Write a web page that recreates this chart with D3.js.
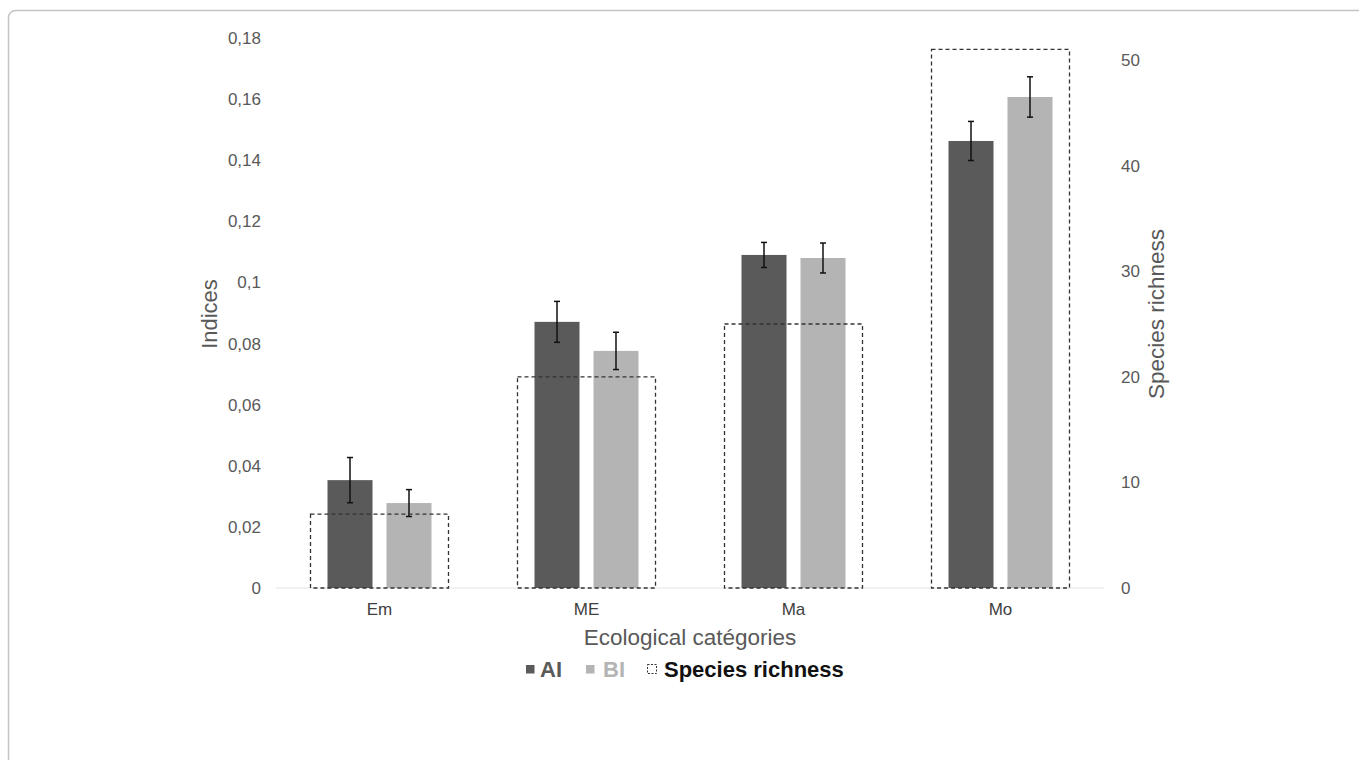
<!DOCTYPE html>
<html>
<head>
<meta charset="utf-8">
<script src="https://cdn.jsdelivr.net/npm/d3@7"></script>
<style>
  body { margin: 0; background: #fff; }
  text { font-family: "Liberation Sans", Arial, sans-serif; }
</style>
</head>
<body>
<div id="chart"></div>
<script>
'use strict';

var categories = ['Em', 'ME', 'Ma', 'Mo'];
var seriesNames = ['AI', 'BI'];
var aiValues = [0.0353, 0.0871, 0.1090, 0.1463];
var aiErrors = [0.0074, 0.0067, 0.0041, 0.0064];
var biValues = [0.0278, 0.0776, 0.1080, 0.1607];
var biErrors = [0.0044, 0.0061, 0.0049, 0.0066];
var richness = [7, 20, 25, 51];

var leftTicks = [0, 0.02, 0.04, 0.06, 0.08, 0.1, 0.12, 0.14, 0.16, 0.18];
var rightTicks = [0, 10, 20, 30, 40, 50];

var W = 1359, H = 760;
var x0 = 276, x1 = 1104, yBase = 588, yTop = 38;

var svg = d3.select('#chart')
    .append('svg')
    .attr('width', W)
    .attr('height', H);

// frame with rounded corner, runs off right and bottom
svg.append('rect')
    .attr('x', 8.5)
    .attr('y', 10.5)
    .attr('width', W + 20)
    .attr('height', H + 20)
    .attr('rx', 7)
    .attr('fill', 'none')
    .attr('stroke', '#c4c4c4')
    .attr('stroke-width', 1.5);

var x = d3.scaleBand()
    .domain(categories)
    .range([x0, x1])
    .padding(0);

var step = x.step();
var groupW = 104;
var xSub = d3.scaleBand()
    .domain(seriesNames)
    .range([(step - groupW) / 2, (step + groupW) / 2])
    .paddingInner(0.237);

var y = d3.scaleLinear().domain([0, 0.18]).range([yBase, yTop]);
var yR = d3.scaleLinear().domain([0, 50]).range([yBase, 60]);

var commaFmt = d3.formatLocale({ decimal: ',', thousands: '.', grouping: [3], currency: ['', ''] }).format('~f');

// baseline
svg.append('line')
    .attr('x1', x0).attr('x2', x1)
    .attr('y1', yBase).attr('y2', yBase)
    .attr('stroke', '#e3e3e3')
    .attr('stroke-width', 1);

var rows = categories.map(function (c, i) {
    return {
        cat: c,
        bars: [
            { key: 'AI', v: aiValues[i], e: aiErrors[i] },
            { key: 'BI', v: biValues[i], e: biErrors[i] }
        ],
        rich: richness[i]
    };
});

var colors = { AI: '#5a5a5a', BI: '#b4b4b4' };

var groups = svg.selectAll('.grp')
    .data(rows)
    .enter()
    .append('g')
    .attr('class', 'grp')
    .attr('transform', function (d) { return 'translate(' + x(d.cat) + ',0)'; });

groups.selectAll('.bar')
    .data(function (d) { return d.bars; })
    .enter()
    .append('rect')
    .attr('class', 'bar')
    .attr('x', function (d) { return xSub(d.key); })
    .attr('width', xSub.bandwidth())
    .attr('y', function (d) { return y(d.v); })
    .attr('height', function (d) { return yBase - y(d.v); })
    .attr('fill', function (d) { return colors[d.key]; });

// error bars
var err = groups.selectAll('.err')
    .data(function (d) { return d.bars; })
    .enter()
    .append('g')
    .attr('class', 'err')
    .attr('stroke', '#111')
    .attr('stroke-width', 1.5);

err.append('line')
    .attr('x1', function (d) { return xSub(d.key) + xSub.bandwidth() / 2; })
    .attr('x2', function (d) { return xSub(d.key) + xSub.bandwidth() / 2; })
    .attr('y1', function (d) { return y(d.v + d.e); })
    .attr('y2', function (d) { return y(d.v - d.e); });

[1, -1].forEach(function (s) {
    err.append('line')
        .attr('x1', function (d) { return xSub(d.key) + xSub.bandwidth() / 2 - 3; })
        .attr('x2', function (d) { return xSub(d.key) + xSub.bandwidth() / 2 + 3; })
        .attr('y1', function (d) { return y(d.v + s * d.e); })
        .attr('y2', function (d) { return y(d.v + s * d.e); });
});

// species richness boxes (secondary axis)
var boxW = step * 2 / 3;
groups.append('rect')
    .attr('x', (step - boxW) / 2)
    .attr('width', boxW)
    .attr('y', function (d) { return yR(d.rich); })
    .attr('height', function (d) { return yBase - yR(d.rich); })
    .attr('fill', 'none')
    .attr('stroke', '#333')
    .attr('stroke-width', 1.3)
    .attr('stroke-dasharray', '4,3');

// axes
var axL = svg.append('g')
    .attr('transform', 'translate(' + x0 + ',0)')
    .call(d3.axisLeft(y).tickValues(leftTicks).tickFormat(commaFmt).tickSize(0).tickPadding(15));
var axR = svg.append('g')
    .attr('transform', 'translate(' + x1 + ',0)')
    .call(d3.axisRight(yR).tickValues(rightTicks).tickSize(0).tickPadding(17));
var axB = svg.append('g')
    .attr('transform', 'translate(0,' + yBase + ')')
    .call(d3.axisBottom(x).tickSize(0).tickPadding(15));

[axL, axR, axB].forEach(function (a) {
    a.select('.domain').remove();
    a.selectAll('text')
        .style('font-family', '"Liberation Sans", Arial, sans-serif')
        .style('font-size', '17px')
        .attr('fill', '#595959');
});
axB.selectAll('text').attr('fill', '#404040');

// axis titles
svg.append('text')
    .attr('transform', 'translate(217,314) rotate(-90)')
    .attr('text-anchor', 'middle')
    .style('font-size', '22px')
    .attr('fill', '#595959')
    .text('Indices');

svg.append('text')
    .attr('transform', 'translate(1164,314) rotate(-90)')
    .attr('text-anchor', 'middle')
    .style('font-size', '22.5px')
    .attr('fill', '#595959')
    .text('Species richness');

svg.append('text')
    .attr('x', 690)
    .attr('y', 645)
    .attr('text-anchor', 'middle')
    .style('font-size', '22.5px')
    .attr('fill', '#595959')
    .text('Ecological catégories');

// legend
var legend = svg.append('g').attr('transform', 'translate(0,677)');
legend.append('rect').attr('x', 526).attr('y', -12).attr('width', 8.5).attr('height', 8.5).attr('fill', colors.AI);
legend.append('text').attr('x', 540).style('font-size', '22px').style('font-weight', 'bold')
    .attr('fill', '#5a5a5a').text('AI');
legend.append('rect').attr('x', 586).attr('y', -12).attr('width', 8.5).attr('height', 8.5).attr('fill', colors.BI);
legend.append('text').attr('x', 603).style('font-size', '22px').style('font-weight', 'bold')
    .attr('fill', '#b4b4b4').text('BI');
legend.append('rect').attr('x', 647.5).attr('y', -12.5).attr('width', 9).attr('height', 9)
    .attr('fill', 'none').attr('stroke', '#333').attr('stroke-width', 1).attr('stroke-dasharray', '2,1.5');
legend.append('text').attr('x', 664).style('font-size', '22px').style('font-weight', 'bold')
    .attr('fill', '#111').text('Species richness');
</script>
</body>
</html>
